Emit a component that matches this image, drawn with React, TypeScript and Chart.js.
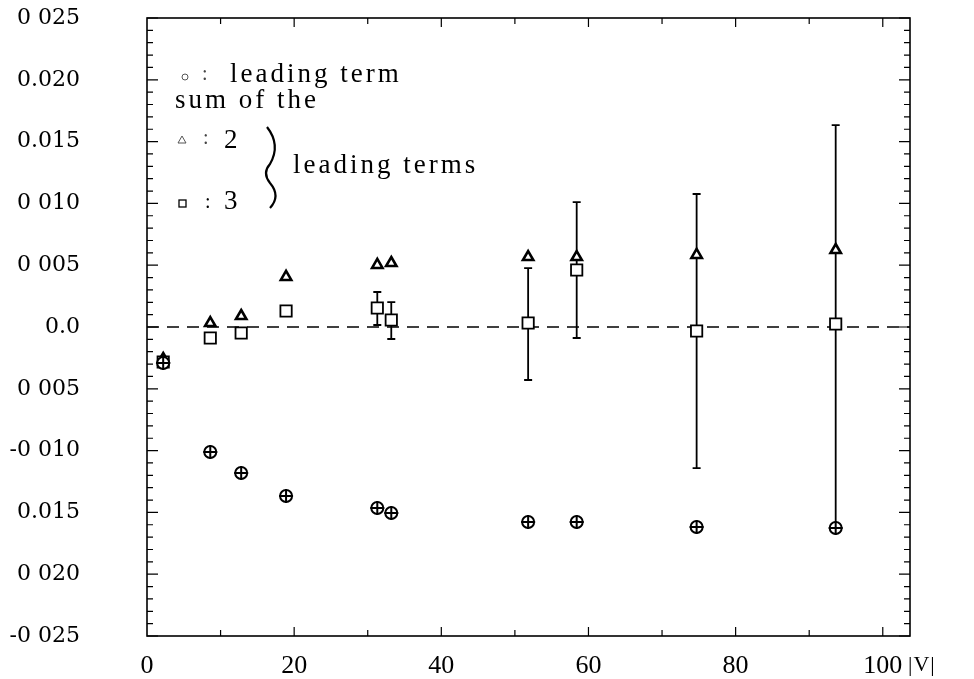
import React, { useEffect, useRef } from 'react';
import { Chart, registerables } from 'chart.js';

Chart.register(...registerables);

// |V| positions of the data points
const xValues = [2.2, 8.6, 12.8, 18.9, 31.3, 33.2, 51.8, 58.4, 74.7, 93.6];
// o : leading term
const leadingTerm = [-0.00291, -0.01011, -0.01181, -0.01367, -0.01464, -0.01505, -0.01578, -0.01578, -0.01618, -0.01626];
// triangle : sum of the 2 leading terms
const sumOfTwo = [-0.00259, 0.00032, 0.00089, 0.00405, 0.00502, 0.00518, 0.00566, 0.00566, 0.00583, 0.00623];
// square : sum of the 3 leading terms
const sumOfThree = [-0.00283, -0.00089, -0.00049, 0.00129, 0.00154, 0.00057, 0.00032, 0.00461, -0.00032, 0.00024];
// error bars on the 3-term sum
const errHigh: (number | null)[] = [null, null, null, null, 0.00283, 0.00202, 0.00477, 0.01011, 0.01076, 0.01634];
const errLow: (number | null)[] = [null, null, null, null, 0.00016, -0.00097, -0.00429, -0.00089, -0.01141, -0.01626];

const xTicks = [0, 20, 40, 60, 80, 100];
const xTickLabels = ['0', '20', '40', '60', '80', '100'];
const yTicks = [-0.025, -0.02, -0.015, -0.01, -0.005, 0, 0.005, 0.01, 0.015, 0.02, 0.025];
const yTickLabels = ['-0 025', '0 020', '0.015', '-0 010', '0 005', '0.0', '0 005', '0 010', '0.015', '0.020', '0 025'];

const X_MIN = 0;
const X_MAX = 103.7;
const Y_MIN = -0.025;
const Y_MAX = 0.025;

const framePlugin = {
  id: 'frameAndErrors',
  beforeDatasetsDraw(chart: any) {
    const { ctx, chartArea } = chart;
    const xs = chart.scales.x;
    const ys = chart.scales.y;
    const { left, right, top, bottom } = chartArea;
    ctx.save();
    ctx.strokeStyle = '#000';
    ctx.lineWidth = 1.6;
    ctx.strokeRect(left, top, right - left, bottom - top);
    ctx.lineWidth = 1.2;
    for (let i = -25; i <= 25; i++) {
      const py = ys.getPixelForValue(i * 0.001);
      const len = i % 5 === 0 ? 11 : 6;
      ctx.beginPath();
      ctx.moveTo(left, py);
      ctx.lineTo(left + len, py);
      ctx.moveTo(right, py);
      ctx.lineTo(right - len, py);
      ctx.stroke();
    }
    for (let v = 10; v <= 100; v += 10) {
      const px = xs.getPixelForValue(v);
      const len = v % 20 === 0 ? 9 : 6;
      ctx.beginPath();
      ctx.moveTo(px, top);
      ctx.lineTo(px, top + len);
      ctx.moveTo(px, bottom);
      ctx.lineTo(px, bottom - len);
      ctx.stroke();
    }
    ctx.lineWidth = 1.8;
    for (let i = 0; i < xValues.length; i++) {
      const hi = errHigh[i];
      const lo = errLow[i];
      if (hi === null || lo === null) continue;
      const px = xs.getPixelForValue(xValues[i]);
      const pyHi = ys.getPixelForValue(hi);
      const pyLo = ys.getPixelForValue(lo);
      ctx.beginPath();
      ctx.moveTo(px, pyHi);
      ctx.lineTo(px, pyLo);
      ctx.moveTo(px - 4, pyHi);
      ctx.lineTo(px + 4, pyHi);
      ctx.moveTo(px - 4, pyLo);
      ctx.lineTo(px + 4, pyLo);
      ctx.stroke();
    }
    ctx.restore();
  },
  afterDraw(chart: any) {
    const { ctx } = chart;
    ctx.save();
    ctx.fillStyle = '#000';
    ctx.strokeStyle = '#000';
    ctx.textAlign = 'left';
    ctx.textBaseline = 'alphabetic';
    ctx.font = '27px "Liberation Serif"';
    (ctx as any).letterSpacing = '3px';
    ctx.fillText('leading term', 230, 82);
    ctx.fillText('sum of the', 175, 108);
    ctx.fillText('leading terms', 293, 173);
    (ctx as any).letterSpacing = '0px';
    ctx.fillText('2', 224, 148);
    ctx.fillText('3', 224, 209);
    ctx.font = '20px "Liberation Serif"';
    ctx.fillStyle = '#444';
    ctx.fillText(':', 202, 80);
    ctx.fillText(':', 203, 144);
    ctx.fillStyle = '#000';
    ctx.fillText(':', 205, 208);
    ctx.lineWidth = 1;
    ctx.strokeStyle = '#555';
    ctx.beginPath();
    ctx.arc(185, 77, 3, 0, Math.PI * 2);
    ctx.stroke();
    ctx.beginPath();
    ctx.moveTo(182, 136);
    ctx.lineTo(186, 143);
    ctx.lineTo(178, 143);
    ctx.closePath();
    ctx.stroke();
    ctx.strokeStyle = '#000';
    ctx.lineWidth = 1.3;
    ctx.strokeRect(179, 200, 7, 7);
    ctx.lineWidth = 2.2;
    ctx.beginPath();
    ctx.moveTo(267, 127);
    ctx.quadraticCurveTo(281, 145, 270, 164);
    ctx.quadraticCurveTo(262, 173, 270, 183);
    ctx.quadraticCurveTo(281, 196, 270, 208);
    ctx.stroke();
    ctx.font = '22px "Liberation Serif"';
    ctx.textBaseline = 'middle';
    (ctx as any).letterSpacing = '1px';
    ctx.fillText('|V|', 908, 665);
    (ctx as any).letterSpacing = '0px';
    ctx.restore();
  },
};

export default function App() {
  const ref = useRef<HTMLCanvasElement | null>(null);
  useEffect(() => {
    document.body.style.margin = '0';
    const canvas = ref.current;
    if (!canvas) return;
    const pts = (ys: number[]) => xValues.map((x, i) => ({ x, y: ys[i] }));
    const chart = new Chart(canvas, {
      type: 'scatter',
      data: {
        datasets: [
          {
            label: 'zero',
            data: [{ x: X_MIN, y: 0 }, { x: X_MAX, y: 0 }],
            showLine: true,
            borderColor: '#000',
            borderWidth: 1.4,
            borderDash: [12, 8],
            pointRadius: 0,
            order: 10,
          },
          {
            label: 'leading term',
            data: pts(leadingTerm),
            pointStyle: 'circle',
            pointRadius: 6,
            pointBackgroundColor: '#fff',
            pointBorderColor: '#000',
            pointBorderWidth: 2,
            order: 2,
          },
          {
            label: 'leading term cross',
            data: pts(leadingTerm),
            pointStyle: 'cross',
            pointRadius: 7,
            pointBorderColor: '#000',
            pointBorderWidth: 2,
            order: 1,
          },
          {
            label: 'sum of 2',
            data: pts(sumOfTwo),
            pointStyle: 'triangle',
            pointRadius: 6,
            pointBackgroundColor: '#fff',
            pointBorderColor: '#000',
            pointBorderWidth: 2.6,
            order: 4,
          },
          {
            label: 'sum of 3',
            data: pts(sumOfThree),
            pointStyle: 'rect',
            pointRadius: 8,
            pointBackgroundColor: '#fff',
            pointBorderColor: '#000',
            pointBorderWidth: 1.8,
            order: 3,
          },
        ],
      },
      options: {
        animation: false,
        responsive: false,
        devicePixelRatio: 1,
        layout: { padding: { top: 18, right: 64, left: 0, bottom: 0 } },
        plugins: { legend: { display: false }, tooltip: { enabled: false } },
        scales: {
          x: {
            type: 'linear',
            min: X_MIN,
            max: X_MAX,
            grid: { display: false, drawTicks: false },
            border: { display: false },
            afterBuildTicks: (scale: any) => {
              scale.ticks = xTicks.map((v) => ({ value: v }));
            },
            afterFit: (scale: any) => {
              scale.height = 43;
              scale.paddingLeft = 0;
              scale.paddingRight = 0;
            },
            ticks: {
              padding: 15,
              maxRotation: 0,
              color: '#000',
              font: { family: '"Liberation Serif"', size: 26 },
              callback: (value: any) => {
                const i = xTicks.findIndex((t) => Math.abs(t - Number(value)) < 1e-9);
                return i >= 0 ? xTickLabels[i] : '';
              },
            },
          },
          y: {
            type: 'linear',
            min: Y_MIN,
            max: Y_MAX,
            grid: { display: false, drawTicks: false },
            border: { display: false },
            afterBuildTicks: (scale: any) => {
              scale.ticks = yTicks.map((v) => ({ value: v }));
            },
            afterFit: (scale: any) => {
              scale.width = 147;
              scale.paddingTop = 0;
              scale.paddingBottom = 0;
            },
            ticks: {
              padding: 67,
              color: '#000',
              font: { family: '"DejaVu Serif"', size: 22 },
              callback: (value: any) => {
                const i = yTicks.findIndex((t) => Math.abs(t - Number(value)) < 1e-9);
                return i >= 0 ? yTickLabels[i] : '';
              },
            },
          },
        },
      },
      plugins: [framePlugin],
    } as any);
    return () => chart.destroy();
  }, []);
  return <canvas ref={ref} width={974} height={679} style={{ display: 'block' }} />;
}
